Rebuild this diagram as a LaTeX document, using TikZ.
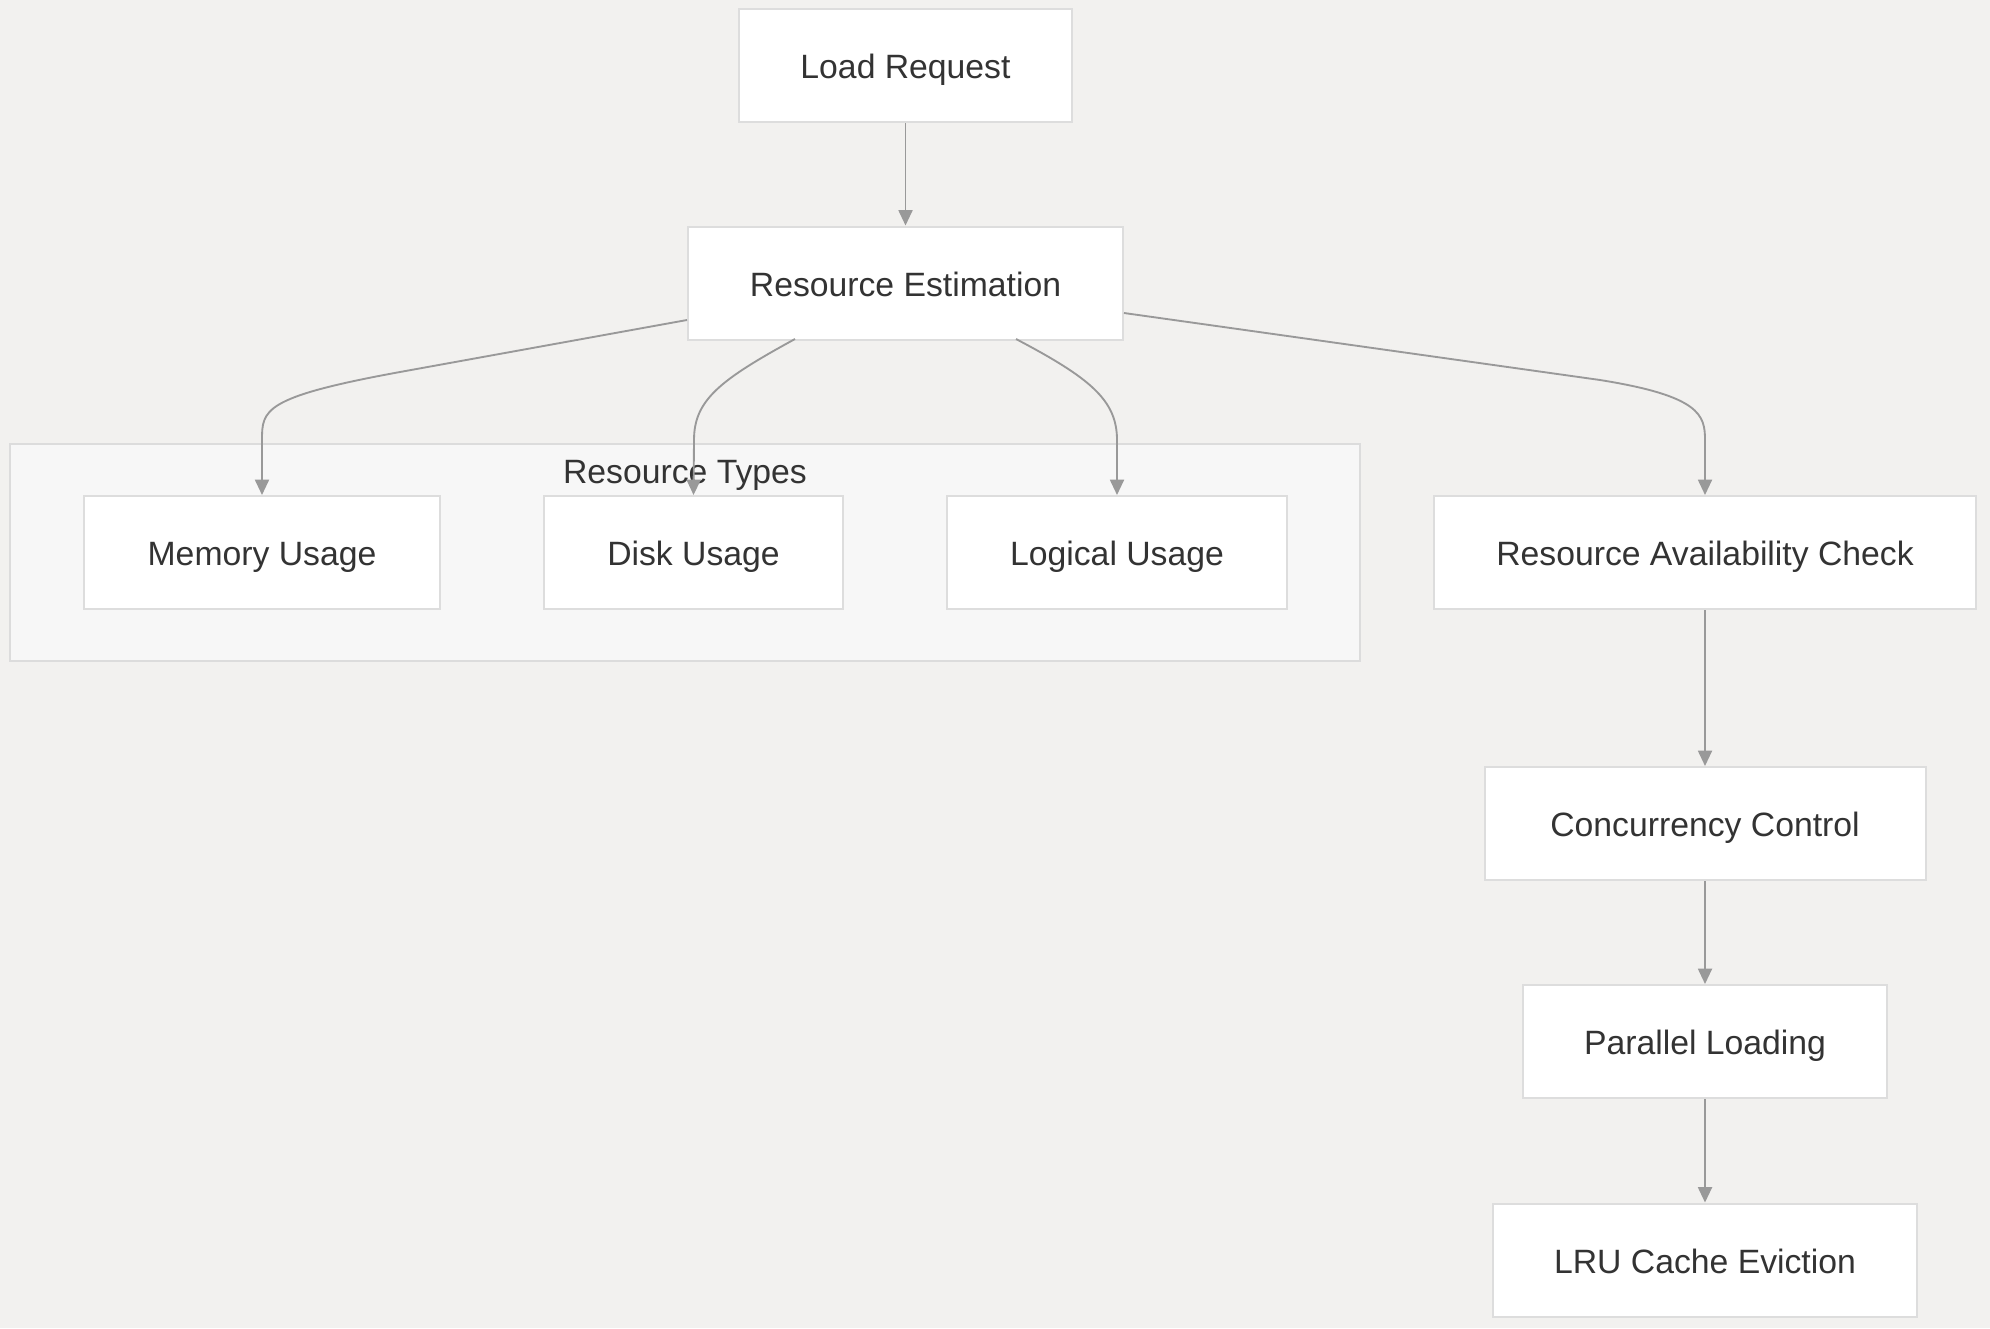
\documentclass[tikz,border=0pt]{standalone}
\usepackage{fontspec}
\setmainfont{Liberation Sans}
\usetikzlibrary{arrows.meta}
\definecolor{bgc}{HTML}{F2F1EF}
\definecolor{boxline}{HTML}{DDDDDD}
\definecolor{grpfill}{HTML}{F7F7F7}
\definecolor{grpline}{HTML}{DCDCDC}
\definecolor{edgec}{HTML}{999999}
\definecolor{txt}{HTML}{333333}
\tikzset{
  lbl/.style={text=txt, font=\fontsize{25.3pt}{30pt}\selectfont, inner sep=0pt, text height=25pt, text depth=5pt},
  box/.style={lbl, draw=boxline, fill=white, line width=1.5pt, minimum height=84.75pt},
  edge/.style={draw=edgec, line width=1.4pt, -{Triangle[length=11.5pt,width=10.5pt]}},
}
\begin{document}
\begin{tikzpicture}[x=0.75pt,y=-0.75pt]
\useasboundingbox (0,0) rectangle (1990,1328);
\fill[bgc] (0,0) rectangle (1990,1328);
% group
\draw[grpline, fill=grpfill, line width=1.5pt] (10,444) rectangle (1360,661);
\node[lbl] (grp) at (685,470) {Resource Types};
% nodes
\node[box, minimum width=249.75pt] (load) at (905.5,65.5) {Load Request};
\node[box, minimum width=326.25pt] (est) at (905.5,283) {Resource Estimation};
\node[box, minimum width=267pt] (mem) at (262,552.5) {Memory Usage};
\node[box, minimum width=224.25pt] (disk) at (693.5,552.5) {Disk Usage};
\node[box, minimum width=255pt] (logi) at (1117,552.5) {Logical Usage};
\node[box, minimum width=406.5pt] (avail) at (1705,552.5) {Resource Availability Check};
\node[box, minimum width=330.75pt] (conc) at (1705,823.5) {Concurrency Control};
\node[box, minimum width=273pt] (par) at (1705,1041.5) {Parallel Loading};
\node[box, minimum width=318pt] (lru) at (1705,1260) {LRU Cache Eviction};
% edges
\draw[edge] (load) -- (est);
\draw[edge] (est.west |- 0,320) -- (400,372) .. controls (263,397) and (262,410) .. (262,440) -- (mem.north);
\draw[edge] (795,339) .. controls (720,380) and (694,400) .. (694,440) -- (disk.north);
\draw[edge] (1016,339) .. controls (1090,378) and (1117,400) .. (1117,440) -- (logi.north);
\draw[edge] (est.east |- 0,313) -- (1600,380) .. controls (1700,396) and (1705,415) .. (1705,440) -- (avail.north);
\draw[edge] (avail) -- (conc);
\draw[edge] (conc) -- (par);
\draw[edge] (par) -- (lru);
\end{tikzpicture}
\end{document}
